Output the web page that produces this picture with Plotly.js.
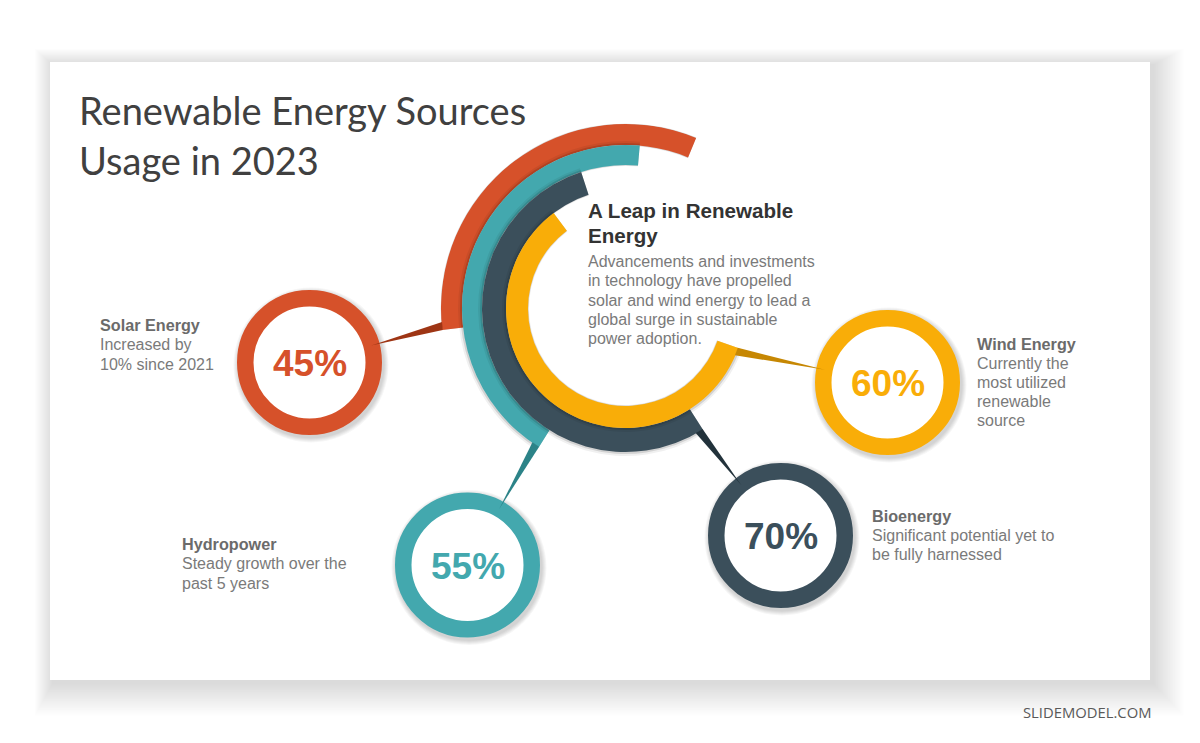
<!DOCTYPE html>
<html><head><meta charset="utf-8">
<script src="https://cdn.plot.ly/plotly-3.0.1.min.js"></script>
<style>html,body{margin:0;padding:0;background:#fff;overflow:hidden}#chart{width:1200px;height:743px}</style>
</head><body><div id="chart"></div>
<script>
// ---------------- DATA ----------------
const categories = ['Solar Energy', 'Hydropower', 'Bioenergy', 'Wind Energy'];
const percents = [45, 55, 70, 60];
const descriptions = [
  ['Increased by', '10% since 2021'],
  ['Steady growth over the', 'past 5 years'],
  ['Significant potential yet to', 'be fully harnessed'],
  ['Currently the', 'most utilized', 'renewable', 'source']
];
// angular extent of each decorative arc (deg, CCW from 3 o'clock)
const arcStart = [67.5, 85, 108, 127];
const arcEnd = [186.7, 238, 302.6, 340.7];
const titleLines = ['Renewable Energy Sources', 'Usage in 2023'];
const headingLines = ['A Leap in Renewable', 'Energy'];
const paragraphLines = ['Advancements and investments', 'in technology have propelled',
  'solar and wind energy to lead a', 'global surge in sustainable', 'power adoption.'];
const footer = 'SLIDEMODEL.COM';

// ---------------- STYLE / LAYOUT ----------------
const W = 1200, H = 743;
const colors = ['#D6512A', '#43A8AE', '#3B4F5B', '#F9AD08'];
const darkColors = ['#9E3514', '#2C8388', '#22323B', '#C68703'];
const CX = 625.5, CY = 308.5, R = 185;
const ringInner = [163.5, 143.5, 119.5, 97.5];
const ringWidth = [21, 20, 24, 22];
const circleCenters = [[309.5, 362.5], [467.5, 565], [780.5, 535.5], [887.5, 382.5]];
const circleR = 72.5, circleStroke = 16.5;
const labelPos = [[100, 331], [181.5, 550], [871.5, 521.7], [977, 349.3]];
const lineGap = 19.3;
const FONT = 'Liberation Sans, Arial, sans-serif';

const traces = [{type: 'scatter', x: [], y: [], xaxis: 'x', yaxis: 'y', showlegend: false, hoverinfo: 'skip'}];
for (let i = 0; i < categories.length; i++) {
  const th = (arcStart[i] + arcEnd[i]) / 2, wd = arcEnd[i] - arcStart[i];
  traces.push({type: 'barpolar', subplot: 'polar', r: [ringWidth[i] + 5], base: [ringInner[i] - 1], theta: [th], width: [wd],
    marker: {color: 'rgba(0,0,0,0.06)', line: {width: 0}}, hoverinfo: 'skip', showlegend: false});
  traces.push({type: 'barpolar', subplot: 'polar', r: [ringWidth[i] + 2.5], base: [ringInner[i] - 0.5], theta: [th], width: [wd],
    marker: {color: 'rgba(0,0,0,0.12)', line: {width: 0}}, hoverinfo: 'skip', showlegend: false});
  traces.push({type: 'barpolar', subplot: 'polar', r: [ringWidth[i]], base: [ringInner[i]], theta: [th], width: [wd],
    name: categories[i], marker: {color: colors[i], line: {width: 0}}, hoverinfo: 'skip', showlegend: false});
}

const shapes = [];
// card shadow (soft, stronger towards bottom-right)
for (let k = 18; k >= 1; k--) {
  shapes.push({type: 'rect', xref: 'x', yref: 'y', layer: 'below', x0: 50 - k * 1.0 + 3, x1: 1150 + k * 1.7 + 3,
    y0: 62 - k * 0.9 + 3, y1: 680 + k * 1.8 + 3, line: {width: 0}, fillcolor: 'rgba(0,0,0,0.0065)'});
}
shapes.push({type: 'rect', xref: 'x', yref: 'y', layer: 'below', x0: 50, x1: 1150, y0: 62, y1: 680, line: {width: 0}, fillcolor: '#ffffff'});
// circle shadows + rings
circleCenters.forEach((c, i) => {
  for (let k = 5; k >= 1; k--) {
    const rr = circleR + k;
    shapes.push({type: 'circle', xref: 'x', yref: 'y', layer: 'above', x0: c[0] + 1.5 - rr, x1: c[0] + 1.5 + rr,
      y0: c[1] + 2.5 - rr, y1: c[1] + 2.5 + rr, line: {width: 0}, fillcolor: 'rgba(0,0,0,0.035)'});
  }
  const rm = circleR - circleStroke / 2;
  shapes.push({type: 'circle', xref: 'x', yref: 'y', layer: 'above', x0: c[0] - rm, x1: c[0] + rm, y0: c[1] - rm, y1: c[1] + rm,
    line: {width: circleStroke, color: colors[i]}, fillcolor: '#ffffff'});
});
// connectors: from the outer edge at each arc's end to its circle
circleCenters.forEach((c, i) => {
  const ro = ringInner[i] + ringWidth[i] - 0.5;
  const a1 = arcEnd[i] * Math.PI / 180, a2 = a1 - 8 / ro;
  const p1 = [CX + ro * Math.cos(a1), CY - ro * Math.sin(a1)];
  const p2 = [CX + ro * Math.cos(a2), CY - ro * Math.sin(a2)];
  const bm = [(p1[0] + p2[0]) / 2, (p1[1] + p2[1]) / 2];
  const dx = bm[0] - c[0], dy = bm[1] - c[1], d = Math.hypot(dx, dy);
  const tip = [c[0] + dx / d * 64, c[1] + dy / d * 64];
  shapes.push({type: 'path', xref: 'x', yref: 'y', layer: 'above',
    path: `M${p1[0]},${p1[1]} L${p2[0]},${p2[1]} L${tip[0]},${tip[1]} Z`, line: {width: 0}, fillcolor: darkColors[i]});
});

const ann = [];
function line(text, x, baseline, size, color, weight, family, xanchor, ascFactor) {
  ann.push({text: text, x: x, y: baseline - (ascFactor || 0.35) * size, xref: 'x', yref: 'y', showarrow: false,
    xanchor: xanchor || 'left', yanchor: 'middle', align: xanchor === 'right' ? 'right' : 'left',
    font: {family: family || FONT, size: size, color: color, weight: weight || 400}});
}
titleLines.forEach((t, j) => line(t, 77, 125 + j * 50, 38, '#404040', 400, 'Lato, sans-serif', 'left', 0.39));
headingLines.forEach((t, j) => line(t, 586, 217.3 + j * 25, 20.6, '#333333', 700));
paragraphLines.forEach((t, j) => line(t, 586, 267 + j * lineGap, 16, '#7a7a7a', 400));
categories.forEach((cat, i) => {
  const [lx, ly] = labelPos[i];
  line(cat, lx - 2, ly, 16.2, '#6b6b6b', 700);
  descriptions[i].forEach((d, j) => line(d, lx - 2, ly + (j + 1) * lineGap, 16, '#7a7a7a', 400));
  ann.push({text: percents[i] + '%', x: circleCenters[i][0], y: circleCenters[i][1] + 1, xref: 'x', yref: 'y', showarrow: false,
    xanchor: 'center', yanchor: 'middle', font: {family: FONT, size: 37, color: colors[i], weight: 700}});
});
line(footer, 1153, 717.3, 14.8, '#595959', 400, 'Open Sans, sans-serif', 'right', 0.39);

const layout = {
  width: W, height: H, margin: {l: 0, r: 0, t: 0, b: 0}, paper_bgcolor: '#ffffff', plot_bgcolor: 'rgba(0,0,0,0)',
  showlegend: false, dragmode: false,
  xaxis: {range: [0, W], visible: false, fixedrange: true, domain: [0, 1]},
  yaxis: {range: [H, 0], visible: false, fixedrange: true, domain: [0, 1]},
  polar: {
    domain: {x: [(CX - R) / W, (CX + R) / W], y: [1 - (CY + R) / H, 1 - (CY - R) / H]},
    bgcolor: 'rgba(0,0,0,0)', hole: 0,
    radialaxis: {range: [0, R], visible: false, showgrid: false, showline: false, ticks: ''},
    angularaxis: {rotation: 0, direction: 'counterclockwise', visible: false, showgrid: false, showline: false, ticks: ''}
  },
  shapes: shapes, annotations: ann
};
Plotly.newPlot('chart', traces, layout, {staticPlot: true, displayModeBar: false});
</script></body></html>
